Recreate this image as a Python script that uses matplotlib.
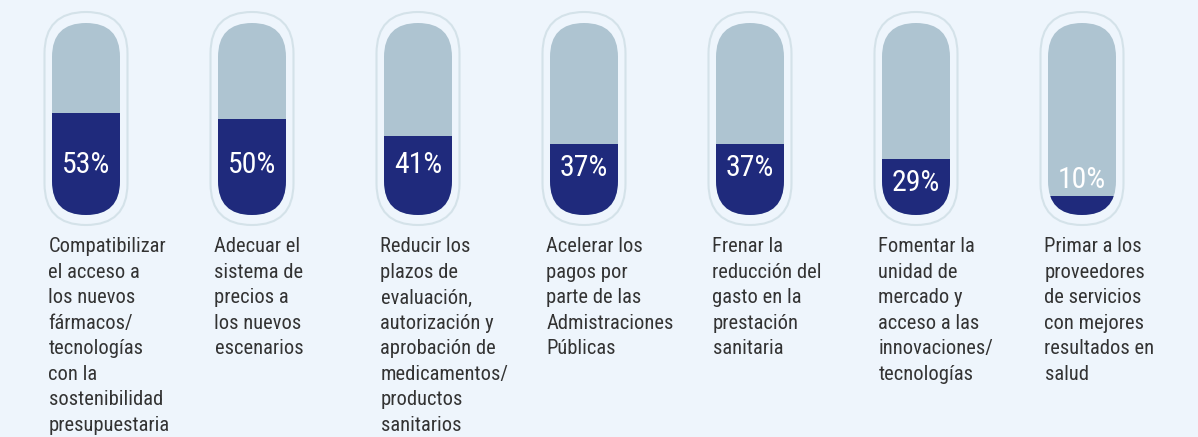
import matplotlib
matplotlib.use('Agg')
import matplotlib.pyplot as plt
from matplotlib.patches import FancyBboxPatch, Rectangle

# datos
valores = [53, 50, 41, 37, 37, 29, 10]
etiquetas = [
    "Compatibilizar\nel acceso a\nlos nuevos\nfármacos/\ntecnologías\ncon la\nsostenibilidad\npresupuestaria",
    "Adecuar el\nsistema de\nprecios a\nlos nuevos\nescenarios",
    "Reducir los\nplazos de\nevaluación,\nautorización y\naprobación de\nmedicamentos/\nproductos\nsanitarios",
    "Acelerar los\npagos por\nparte de las\nAdmistraciones\nPúblicas",
    "Frenar la\nreducción del\ngasto en la\nprestación\nsanitaria",
    "Fomentar la\nunidad de\nmercado y\nacceso a las\ninnovaciones/\ntecnologías",
    "Primar a los\nproveedores\nde servicios\ncon mejores\nresultados en\nsalud",
]

plt.rcParams['font.family'] = ['Roboto Condensed', 'Liberation Sans Narrow',
                               'IBM Plex Sans Condensed', 'DejaVu Sans']

fondo = '#EEF5FC'
gris = '#AEC4D1'
azul = '#1F2A7C'
borde = '#D4E2E9'

W, H = 1198, 437
fig = plt.figure(figsize=(W / 100, H / 100), dpi=100, facecolor=fondo)
ax = fig.add_axes([0, 0, 1, 1])
ax.set_xlim(0, W)
ax.set_ylim(H, 0)
ax.axis('off')

# geometría de las píldoras (en píxeles)
x0, paso = 86, 166
ancho, alto = 68, 192
base = 215          # parte inferior de la píldora interior
radio = ancho / 2

for i, (v, txt) in enumerate(zip(valores, etiquetas)):
    cx = x0 + paso * i

    # contorno exterior
    ax.add_patch(FancyBboxPatch((cx - 41.5, 12), 83, 213,
                                boxstyle="round,pad=0,rounding_size=41.5",
                                fc='none', ec=borde, lw=1.5))
    # píldora
    pill = FancyBboxPatch((cx - radio, base - alto), ancho, alto,
                          boxstyle=f"round,pad=0,rounding_size={radio}",
                          fc=gris, ec='none')
    ax.add_patch(pill)
    # relleno
    h = v / 100 * alto
    rel = Rectangle((cx - radio, base - h), ancho, h, fc=azul, ec='none')
    ax.add_patch(rel)
    rel.set_clip_path(pill)

    # porcentaje
    u = alto / 100
    if v < 20:
        centro = v + 10
    else:
        centro = min(27.6, v - 11)
    yb = base - centro * u + 11
    ax.text(cx, yb, f"{v}%", color='white', fontsize=21.5,
            ha='center', va='baseline')

    # etiqueta
    ax.text(cx - 37.5, 237.5, txt, color='#333333', fontsize=14.8,
            ha='left', va='top', linespacing=1.43)

fig.savefig('out.png', dpi=100, facecolor=fondo)
